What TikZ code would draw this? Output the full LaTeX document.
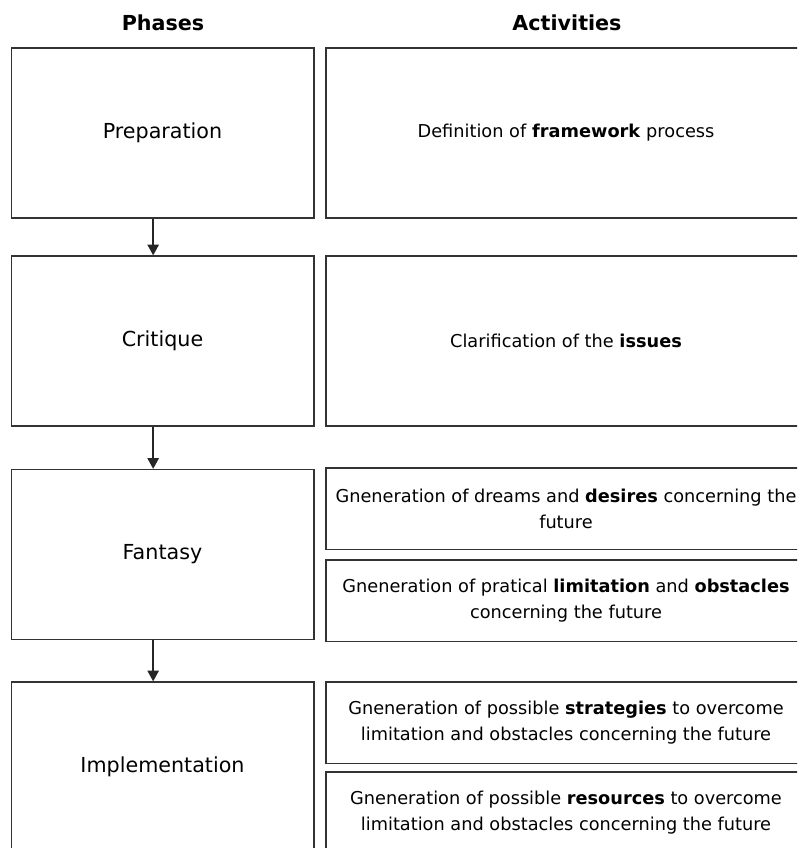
\documentclass[tikz,border=0pt]{standalone}
\usepackage{fontspec}
\setmainfont{DejaVu Sans}
\usepackage{tikz}
\usetikzlibrary{arrows.meta, positioning}

\begin{document}
\begin{tikzpicture}[
		x=0.75pt, y=-0.75pt,
		% Define styles for the headers and boxes
		head_node/.style={
			font=\fontsize{15.5}{18}\selectfont\bfseries
		},
		phase_box/.style={
			rectangle,
			draw=black!80,
			line width=1pt,
			minimum width=227pt,
			minimum height=127.5pt,
			font=\fontsize{15.5}{18}\selectfont
		},
		activity_box/.style={
			rectangle,
			draw=black!80,
			line width=1pt,
			minimum width=360pt,
			minimum height=127.5pt,
			align=center,
			font=\fontsize{13.3}{19.5}\selectfont
		},
		sub_box/.style={
			activity_box,
			minimum height=61pt
		},
		arrow_style/.style={
			-{Triangle[length=8pt, width=8.5pt]},
			line width=1.1pt,
			draw=black!85
		},
		]
		\clip (0,0) rectangle (797,848);
		\useasboundingbox (0,0) rectangle (797,848);
		
		% ----- Headers -----
		\node[head_node] (phases_head) at (163, 23) {Phases};
		\node[head_node] (activities_head) at (567, 23) {Activities};
		
		% ----- Phases -----
		\node[phase_box] (preparation) at (162.5, 133) {Preparation};
		\node[phase_box] (critique) at (162.5, 341) {Critique};
		\node[phase_box] (fantasy) at (162.5, 554.5) {Fantasy};
		\node[phase_box] (implementation) at (162.5, 767) {Implementation};
		
		% ----- Activities -----
		\node[activity_box] (framework) at (566, 133) {Definition of \textbf{framework} process};
		\node[activity_box] (issues) at (566, 341) {Clarification of the \textbf{issues}};
		\node[sub_box] (desires) at (566, 508.5) {Gneneration of dreams and \textbf{desires} concerning the\\future};
		\node[sub_box] (obstacles) at (566, 600.5) {Gneneration of pratical \textbf{limitation} and \textbf{obstacles}\\concerning the future};
		\node[sub_box] (strategies) at (566, 722.5) {Gneneration of possible \textbf{strategies} to overcome\\limitation and obstacles concerning the future};
		\node[sub_box] (resources) at (566, 812.5) {Gneneration of possible \textbf{resources} to overcome\\limitation and obstacles concerning the future};
		
		% ----- Arrows -----
		\draw[arrow_style] ([xshift=-7pt]preparation.south) -- ([xshift=-7pt]critique.north);
		\draw[arrow_style] ([xshift=-7pt]critique.south) -- ([xshift=-7pt]fantasy.north);
		\draw[arrow_style] ([xshift=-7pt]fantasy.south) -- ([xshift=-7pt]implementation.north);
		
	\end{tikzpicture}
\end{document}
